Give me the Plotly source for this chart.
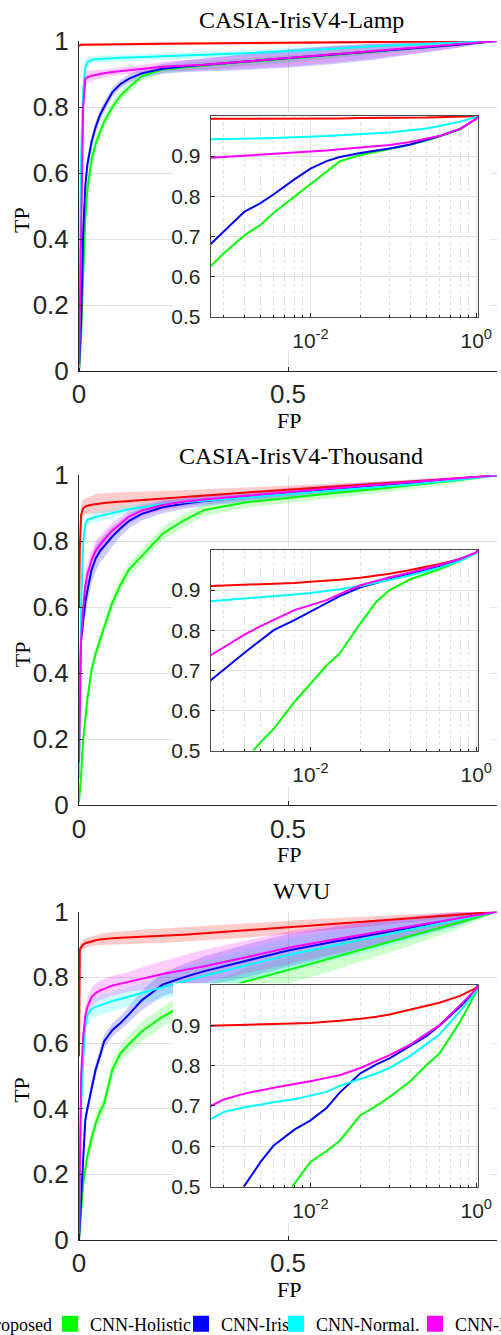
import math
import plotly.graph_objects as go

FIG_W, FIG_H = 501, 1335

# ---------------- data ----------------
METHODS = ["Proposed", "CNN-Holistic", "CNN-Iris", "CNN-Normal.", "CNN-Periocular"]
COLORS = ["#ff0000", "#00ff00", "#0000ff", "#00ffff", "#ff00ff"]
BAND_COLORS = ["rgba(255,0,0,0.20)", "rgba(0,255,0,0.20)", "rgba(0,0,255,0.20)",
               "rgba(0,255,255,0.20)", "rgba(255,0,255,0.20)"]
PANEL_TITLES = ["CASIA-IrisV4-Lamp", "CASIA-IrisV4-Thousand", "WVU"]

MAIN_X_TICKS = [0, 0.5, 1]
MAIN_X_TICKTEXT = ["0", "0.5", "1"]
MAIN_Y_TICKS = [0, 0.2, 0.4, 0.6, 0.8, 1]
MAIN_Y_TICKTEXT = ["0", "0.2", "0.4", "0.6", "0.8", "1"]
INSET_X_TICKS = [0.01, 0.1]
INSET_X_TICKTEXT = ["10<sup>-2</sup>", "10<sup>0</sup>"]
INSET_X_MINOR = [0.003, 0.004, 0.005, 0.006, 0.007, 0.008, 0.009,
                 0.02, 0.03, 0.04, 0.05, 0.06, 0.07, 0.08, 0.09]
INSET_Y_TICKS = [0.5, 0.6, 0.7, 0.8, 0.9]
INSET_Y_TICKTEXT = ["0.5", "0.6", "0.7", "0.8", "0.9"]

MAIN_FP = [0, 0.002, 0.005, 0.01, 0.015, 0.02, 0.03, 0.04, 0.05, 0.06, 0.08, 0.1,
           0.12, 0.15, 0.2, 0.25, 0.3, 0.4, 0.5, 0.6, 0.7, 0.8, 0.9, 1.0]
INSET_FP = [0.0025, 0.003, 0.004, 0.005, 0.006, 0.008, 0.01, 0.0125, 0.015, 0.02,
            0.025, 0.03, 0.04, 0.05, 0.06, 0.08, 0.1, 0.1025]

# --- CASIA-IrisV4-Lamp, main ROC (mean TP) ---
LAMP_PROPOSED = [0.985, 0.988, 0.989, 0.989, 0.989, 0.99, 0.99, 0.99, 0.99, 0.99, 0.99, 0.991,
                 0.991, 0.991, 0.992, 0.993, 0.993, 0.994, 0.995, 0.996, 0.997, 0.998, 0.999, 1.0]
LAMP_HOLISTIC = [0.0, 0.03, 0.1, 0.29, 0.46, 0.55, 0.64, 0.69, 0.724, 0.755, 0.8, 0.835,
                 0.86, 0.893, 0.914, 0.921, 0.926, 0.936, 0.946, 0.956, 0.966, 0.977, 0.988, 1.0]
LAMP_IRIS = [0.0, 0.05, 0.15, 0.42, 0.56, 0.625, 0.694, 0.74, 0.775, 0.8, 0.845, 0.87,
             0.886, 0.902, 0.916, 0.923, 0.928, 0.937, 0.947, 0.957, 0.967, 0.977, 0.988, 1.0]
LAMP_NORMAL = [0.01, 0.35, 0.65, 0.85, 0.92, 0.935, 0.943, 0.945, 0.946, 0.947, 0.948, 0.949,
               0.95, 0.951, 0.953, 0.955, 0.958, 0.963, 0.969, 0.976, 0.984, 0.99, 0.996, 1.0]
LAMP_PERIOCULAR = [0.02, 0.2, 0.5, 0.8, 0.885, 0.89, 0.895, 0.898, 0.9, 0.902, 0.906, 0.909,
                   0.912, 0.916, 0.922, 0.925, 0.928, 0.938, 0.948, 0.958, 0.968, 0.978, 0.989, 1.0]
# spread (std) of each method
LAMP_PROPOSED_STD = [0.004] * 23 + [0.0]
LAMP_HOLISTIC_STD = [0.01, 0.02, 0.03, 0.04, 0.04, 0.035, 0.03, 0.025, 0.02, 0.02, 0.018, 0.016,
                     0.015, 0.014, 0.012, 0.012, 0.012, 0.012, 0.012, 0.01, 0.008, 0.006, 0.004, 0.0]
LAMP_IRIS_STD = [0.01, 0.02, 0.03, 0.03, 0.03, 0.025, 0.02, 0.018, 0.016, 0.015, 0.014, 0.013,
                 0.013, 0.013, 0.015, 0.018, 0.02, 0.025, 0.028, 0.028, 0.025, 0.018, 0.01, 0.0]
LAMP_NORMAL_STD = [0.01, 0.03, 0.05, 0.05, 0.03, 0.015, 0.01, 0.01, 0.01, 0.01, 0.01, 0.01,
                   0.01, 0.01, 0.01, 0.01, 0.01, 0.01, 0.01, 0.01, 0.008, 0.006, 0.004, 0.0]
LAMP_PERIOCULAR_STD = [0.01, 0.03, 0.05, 0.05, 0.03, 0.02, 0.016, 0.015, 0.014, 0.013, 0.012, 0.011,
                       0.011, 0.012, 0.014, 0.016, 0.018, 0.022, 0.025, 0.025, 0.022, 0.016, 0.01, 0.0]
# --- CASIA-IrisV4-Lamp, inset (log FP) ---
LAMP_IN_PROPOSED = [0.993, 0.993, 0.993, 0.993, 0.993, 0.994, 0.994, 0.994, 0.994, 0.995,
                    0.995, 0.995, 0.996, 0.996, 0.997, 0.998, 0.999, 1.0]
LAMP_IN_HOLISTIC = [0.626, 0.658, 0.703, 0.729, 0.759, 0.799, 0.83, 0.861, 0.887, 0.903,
                    0.911, 0.918, 0.928, 0.939, 0.949, 0.967, 0.993, 1.0]
LAMP_IN_IRIS = [0.681, 0.713, 0.762, 0.783, 0.805, 0.842, 0.869, 0.8875, 0.898, 0.908,
                0.914, 0.919, 0.929, 0.94, 0.95, 0.968, 0.993, 1.0]
LAMP_IN_NORMAL = [0.942, 0.9425, 0.943, 0.944, 0.945, 0.947, 0.948, 0.95, 0.952, 0.954,
                  0.957, 0.959, 0.964, 0.969, 0.975, 0.986, 0.998, 1.0]
LAMP_IN_PERIOCULAR = [0.896, 0.898, 0.902, 0.904, 0.906, 0.908, 0.911, 0.914, 0.917, 0.921,
                      0.925, 0.928, 0.935, 0.943, 0.95, 0.968, 0.993, 1.0]

# --- CASIA-IrisV4-Thousand, main ROC ---
THOU_PROPOSED = [0.6, 0.78, 0.88, 0.9, 0.905, 0.908, 0.911, 0.913, 0.915, 0.916, 0.918, 0.92,
                 0.922, 0.925, 0.93, 0.935, 0.94, 0.948, 0.956, 0.964, 0.972, 0.98, 0.99, 1.0]
THOU_HOLISTIC = [0.01, 0.04, 0.09, 0.2, 0.27, 0.32, 0.41, 0.46, 0.5, 0.54, 0.615, 0.67,
                 0.715, 0.755, 0.823, 0.863, 0.895, 0.918, 0.932, 0.945, 0.957, 0.97, 0.984, 1.0]
THOU_IRIS = [0.3, 0.42, 0.5, 0.56, 0.615, 0.65, 0.713, 0.748, 0.77, 0.785, 0.815, 0.84,
             0.862, 0.883, 0.903, 0.914, 0.922, 0.934, 0.946, 0.957, 0.968, 0.978, 0.989, 1.0]
THOU_NORMAL = [0.08, 0.3, 0.6, 0.8, 0.85, 0.865, 0.87, 0.874, 0.877, 0.88, 0.886, 0.892,
               0.897, 0.903, 0.912, 0.918, 0.923, 0.932, 0.942, 0.952, 0.962, 0.973, 0.986, 1.0]
THOU_PERIOCULAR = [0.13, 0.35, 0.5, 0.6, 0.665, 0.7, 0.743, 0.772, 0.79, 0.805, 0.833, 0.855,
                   0.875, 0.893, 0.91, 0.92, 0.927, 0.938, 0.95, 0.96, 0.97, 0.98, 0.99, 1.0]
THOU_PROPOSED_STD = [0.02, 0.03, 0.03, 0.025, 0.025, 0.025, 0.028, 0.03, 0.03, 0.03, 0.03, 0.03,
                     0.028, 0.026, 0.022, 0.02, 0.018, 0.015, 0.012, 0.01, 0.008, 0.006, 0.004, 0.0]
THOU_HOLISTIC_STD = [0.005, 0.01, 0.015, 0.02, 0.02, 0.02, 0.02, 0.02, 0.02, 0.02, 0.022, 0.022,
                     0.022, 0.022, 0.02, 0.02, 0.018, 0.016, 0.015, 0.014, 0.013, 0.012, 0.008, 0.0]
THOU_IRIS_STD = [0.02, 0.03, 0.04, 0.04, 0.04, 0.04, 0.04, 0.04, 0.035, 0.035, 0.03, 0.025,
                 0.022, 0.02, 0.018, 0.016, 0.015, 0.014, 0.013, 0.012, 0.01, 0.008, 0.005, 0.0]
THOU_NORMAL_STD = [0.02, 0.03, 0.04, 0.03, 0.02, 0.015, 0.015, 0.015, 0.015, 0.015, 0.015, 0.014,
                   0.013, 0.012, 0.012, 0.011, 0.01, 0.01, 0.01, 0.01, 0.008, 0.006, 0.004, 0.0]
THOU_PERIOCULAR_STD = [0.02, 0.03, 0.04, 0.04, 0.04, 0.035, 0.03, 0.03, 0.028, 0.026, 0.024, 0.022,
                       0.02, 0.018, 0.016, 0.015, 0.014, 0.013, 0.012, 0.011, 0.01, 0.008, 0.005, 0.0]
THOU_IN_PROPOSED = [0.91, 0.911, 0.9125, 0.914, 0.916, 0.918, 0.921, 0.923, 0.926, 0.931,
                    0.936, 0.941, 0.95, 0.958, 0.965, 0.977, 0.993, 1.0]
THOU_IN_HOLISTIC = [0.379, 0.415, 0.474, 0.521, 0.554, 0.621, 0.667, 0.712, 0.742, 0.817,
                    0.871, 0.9, 0.927, 0.94, 0.952, 0.973, 0.993, 1.0]
THOU_IN_IRIS = [0.675, 0.7025, 0.744, 0.775, 0.8, 0.825, 0.846, 0.867, 0.885, 0.907,
                0.918, 0.927, 0.94, 0.951, 0.96, 0.977, 0.993, 1.0]
THOU_IN_NORMAL = [0.8725, 0.875, 0.879, 0.882, 0.884, 0.889, 0.893, 0.8975, 0.902, 0.91,
                  0.918, 0.925, 0.937, 0.9475, 0.956, 0.973, 0.992, 1.0]
THOU_IN_PERIOCULAR = [0.7375, 0.757, 0.789, 0.81, 0.825, 0.85, 0.8625, 0.875, 0.89, 0.912,
                      0.923, 0.932, 0.944, 0.954, 0.9625, 0.978, 0.994, 1.0]

# --- WVU, main ROC ---
WVU_PROPOSED = [0.56, 0.885, 0.892, 0.9, 0.904, 0.906, 0.91, 0.913, 0.915, 0.917, 0.919, 0.921,
                0.922, 0.924, 0.927, 0.93, 0.934, 0.943, 0.952, 0.962, 0.971, 0.981, 0.99, 1.0]
WVU_HOLISTIC = [0.0, 0.03, 0.1, 0.17, 0.215, 0.255, 0.31, 0.355, 0.39, 0.415, 0.52, 0.57,
                0.597, 0.635, 0.68, 0.715, 0.74, 0.788, 0.822, 0.857, 0.893, 0.929, 0.964, 1.0]
WVU_IRIS = [0.0, 0.05, 0.16, 0.28, 0.365, 0.4, 0.465, 0.52, 0.56, 0.605, 0.64, 0.662,
            0.688, 0.73, 0.778, 0.8, 0.819, 0.85, 0.882, 0.906, 0.93, 0.953, 0.977, 1.0]
WVU_NORMAL = [0.02, 0.2, 0.4, 0.55, 0.65, 0.685, 0.703, 0.71, 0.715, 0.719, 0.728, 0.735,
              0.742, 0.752, 0.771, 0.788, 0.805, 0.836, 0.868, 0.895, 0.921, 0.947, 0.973, 1.0]
WVU_PERIOCULAR = [0.02, 0.3, 0.5, 0.62, 0.68, 0.71, 0.74, 0.752, 0.76, 0.765, 0.775, 0.781,
                  0.787, 0.796, 0.81, 0.822, 0.834, 0.861, 0.89, 0.913, 0.935, 0.957, 0.978, 1.0]
WVU_PROPOSED_STD = [0.01, 0.015, 0.015, 0.015, 0.015, 0.015, 0.015, 0.016, 0.017, 0.018, 0.019, 0.02,
                    0.02, 0.021, 0.022, 0.022, 0.022, 0.022, 0.02, 0.018, 0.015, 0.012, 0.008, 0.0]
WVU_HOLISTIC_STD = [0.01, 0.02, 0.02, 0.02, 0.025, 0.025, 0.025, 0.025, 0.025, 0.025, 0.025, 0.025,
                    0.028, 0.03, 0.03, 0.035, 0.035, 0.04, 0.04, 0.04, 0.035, 0.03, 0.02, 0.0]
WVU_IRIS_STD = [0.01, 0.02, 0.02, 0.02, 0.02, 0.02, 0.02, 0.02, 0.02, 0.02, 0.02, 0.022,
                0.025, 0.03, 0.035, 0.04, 0.045, 0.05, 0.05, 0.045, 0.04, 0.03, 0.02, 0.0]
WVU_NORMAL_STD = [0.01, 0.02, 0.03, 0.03, 0.03, 0.03, 0.03, 0.03, 0.03, 0.03, 0.03, 0.03,
                  0.03, 0.03, 0.035, 0.04, 0.045, 0.05, 0.05, 0.045, 0.04, 0.03, 0.02, 0.0]
WVU_PERIOCULAR_STD = [0.01, 0.02, 0.03, 0.03, 0.03, 0.03, 0.03, 0.03, 0.03, 0.03, 0.03, 0.03,
                      0.03, 0.035, 0.04, 0.045, 0.05, 0.05, 0.05, 0.045, 0.04, 0.03, 0.02, 0.0]
WVU_IN_PROPOSED = [0.899, 0.9, 0.9005, 0.901, 0.902, 0.904, 0.906, 0.909, 0.911, 0.916,
                   0.921, 0.927, 0.939, 0.948, 0.956, 0.973, 0.993, 1.0]
WVU_IN_HOLISTIC = [0.196, 0.254, 0.337, 0.395, 0.436, 0.507, 0.561, 0.588, 0.613, 0.677,
                   0.7, 0.722, 0.761, 0.801, 0.83, 0.909, 0.983, 1.0]
WVU_IN_IRIS = [0.382, 0.428, 0.502, 0.561, 0.602, 0.641, 0.664, 0.695, 0.733, 0.781,
               0.803, 0.818, 0.849, 0.873, 0.899, 0.946, 0.988, 1.0]
WVU_IN_NORMAL = [0.667, 0.685, 0.6965, 0.704, 0.709, 0.7164, 0.7247, 0.7347, 0.7496, 0.768,
                 0.7803, 0.7944, 0.8242, 0.8532, 0.8773, 0.9353, 0.985, 1.0]
WVU_IN_PERIOCULAR = [0.6998, 0.716, 0.7305, 0.739, 0.745, 0.7546, 0.761, 0.7695, 0.776, 0.794,
                     0.811, 0.826, 0.852, 0.879, 0.9005, 0.95, 0.99, 1.0]

PANELS = [
    dict(main=[LAMP_PROPOSED, LAMP_HOLISTIC, LAMP_IRIS, LAMP_NORMAL, LAMP_PERIOCULAR],
         std=[LAMP_PROPOSED_STD, LAMP_HOLISTIC_STD, LAMP_IRIS_STD, LAMP_NORMAL_STD, LAMP_PERIOCULAR_STD],
         inset=[LAMP_IN_PROPOSED, LAMP_IN_HOLISTIC, LAMP_IN_IRIS, LAMP_IN_NORMAL, LAMP_IN_PERIOCULAR]),
    dict(main=[THOU_PROPOSED, THOU_HOLISTIC, THOU_IRIS, THOU_NORMAL, THOU_PERIOCULAR],
         std=[THOU_PROPOSED_STD, THOU_HOLISTIC_STD, THOU_IRIS_STD, THOU_NORMAL_STD, THOU_PERIOCULAR_STD],
         inset=[THOU_IN_PROPOSED, THOU_IN_HOLISTIC, THOU_IN_IRIS, THOU_IN_NORMAL, THOU_IN_PERIOCULAR]),
    dict(main=[WVU_PROPOSED, WVU_HOLISTIC, WVU_IRIS, WVU_NORMAL, WVU_PERIOCULAR],
         std=[WVU_PROPOSED_STD, WVU_HOLISTIC_STD, WVU_IRIS_STD, WVU_NORMAL_STD, WVU_PERIOCULAR_STD],
         inset=[WVU_IN_PROPOSED, WVU_IN_HOLISTIC, WVU_IN_IRIS, WVU_IN_NORMAL, WVU_IN_PERIOCULAR]),
]

# ---------------- layout geometry (pixels) ----------------
MAIN_X_PX = (79, 497)
MAIN_Y_PX = [(41, 371), (475.3, 805.3), (911.7, 1240)]
INSET_X_PX = (210.7, 478)
INSET_Y_PX = [(116, 316.7), (550, 750.5), (985, 1186.5)]
COVER_X = (0.225, 0.985)
COVER_Y = [(0.064, 0.785), (0.058, 0.784), (0.052, 0.782)]
TITLE_BASE_PX = [28.3, 464, 899.3]
LEGEND_LEFT_PX = [-55, 50, 181, 276, 415]
LEGEND_Y_PX = 1324


def pxx(p):
    return p / FIG_W


def pxy(p):
    return 1 - p / FIG_H


AX_COLOR = "#262626"
GRID_COLOR = "#e2e2e2"
SANS = "Liberation Sans"
SERIF = "Liberation Serif"

fig = go.Figure()
layout = dict(
    width=FIG_W, height=FIG_H,
    margin=dict(l=0, r=0, t=0, b=0, autoexpand=False),
    paper_bgcolor="white", plot_bgcolor="white",
    showlegend=True,
    annotations=[],
)

for p, panel in enumerate(PANELS):
    mi = 2 * p + 1
    ii = 2 * p + 2
    mx, my = f"x{mi}", f"y{mi}"
    ix, iy = f"x{ii}", f"y{ii}"

    # shaded spread bands
    for m in range(5):
        mean = panel["main"][m]
        sd = panel["std"][m]
        up = [min(1.0, a + b) for a, b in zip(mean, sd)]
        lo = [max(0.0, a - b) for a, b in zip(mean, sd)]
        fig.add_trace(go.Scatter(
            x=MAIN_FP + MAIN_FP[::-1], y=up + lo[::-1],
            fill="toself", fillcolor=BAND_COLORS[m], line=dict(width=0),
            mode="lines", hoverinfo="skip", showlegend=False, xaxis=mx, yaxis=my))
    # mean curves
    for m in range(5):
        fig.add_trace(go.Scatter(
            x=MAIN_FP, y=panel["main"][m], mode="lines",
            line=dict(color=COLORS[m], width=2), name=METHODS[m],
            showlegend=False, xaxis=mx, yaxis=my))
    # white panel behind the inset
    cx0, cx1 = COVER_X
    cy0, cy1 = COVER_Y[p]
    fig.add_trace(go.Scatter(
        x=[cx0, cx1, cx1, cx0, cx0], y=[cy0, cy0, cy1, cy1, cy0],
        fill="toself", fillcolor="white", line=dict(width=0), mode="lines",
        hoverinfo="skip", showlegend=False, xaxis=mx, yaxis=my))
    # inset curves
    for m in range(5):
        fig.add_trace(go.Scatter(
            x=INSET_FP, y=panel["inset"][m], mode="lines",
            line=dict(color=COLORS[m], width=2), name=METHODS[m],
            showlegend=False, xaxis=ix, yaxis=iy))

    top, bot = MAIN_Y_PX[p]
    layout[f"xaxis{mi}"] = dict(
        domain=[pxx(MAIN_X_PX[0]), pxx(MAIN_X_PX[1])], anchor=my,
        range=[0, 1], tickmode="array", tickvals=MAIN_X_TICKS, ticktext=MAIN_X_TICKTEXT,
        showgrid=True, gridcolor=GRID_COLOR, gridwidth=1, zeroline=False,
        showline=True, linecolor=AX_COLOR, linewidth=1,
        ticks="inside", ticklen=4, tickcolor=AX_COLOR,
        tickfont=dict(family=SANS, size=26, color=AX_COLOR), ticklabelstandoff=0)
    layout[f"yaxis{mi}"] = dict(
        domain=[pxy(bot), pxy(top)], anchor=mx,
        range=[0, 1], tickmode="array", tickvals=MAIN_Y_TICKS, ticktext=MAIN_Y_TICKTEXT,
        showgrid=True, gridcolor=GRID_COLOR, gridwidth=1, zeroline=False,
        showline=True, linecolor=AX_COLOR, linewidth=1,
        ticks="inside", ticklen=4, tickcolor=AX_COLOR,
        tickfont=dict(family=SANS, size=26, color=AX_COLOR), ticklabelstandoff=4)

    itop, ibot = INSET_Y_PX[p]
    layout[f"xaxis{ii}"] = dict(
        domain=[pxx(INSET_X_PX[0]), pxx(INSET_X_PX[1])], anchor=iy, type="log",
        range=[math.log10(0.0025), math.log10(0.1025)],
        tickmode="array", tickvals=INSET_X_TICKS, ticktext=INSET_X_TICKTEXT,
        showgrid=True, gridcolor=GRID_COLOR, zeroline=False,
        showline=True, mirror=True, linecolor="#4a4a4a", linewidth=1,
        ticks="inside", ticklen=4, tickcolor=AX_COLOR,
        minor=dict(tickmode="array", tickvals=INSET_X_MINOR, showgrid=True,
                   griddash="dot", gridcolor="#dedede", ticks="inside", ticklen=2,
                   tickcolor=AX_COLOR),
        tickfont=dict(family=SANS, size=21, color=AX_COLOR), ticklabelstandoff=5)
    layout[f"yaxis{ii}"] = dict(
        domain=[pxy(ibot), pxy(itop)], anchor=ix,
        range=[0.5, 1.0], tickmode="array", tickvals=INSET_Y_TICKS, ticktext=INSET_Y_TICKTEXT,
        showgrid=True, gridcolor=GRID_COLOR, zeroline=False,
        showline=True, mirror=True, linecolor="#4a4a4a", linewidth=1,
        ticks="inside", ticklen=4, tickcolor=AX_COLOR,
        tickfont=dict(family=SANS, size=21, color=AX_COLOR), ticklabelstandoff=5)

    # text: title, axis labels
    layout["annotations"].append(dict(
        text=PANEL_TITLES[p], xref="paper", yref="paper",
        x=pxx(301), y=pxy(TITLE_BASE_PX[p] - 8), xanchor="center", yanchor="middle",
        showarrow=False, font=dict(family=SERIF, size=24, color="black")))
    layout["annotations"].append(dict(
        text="TP", xref="paper", yref="paper", textangle=-90,
        x=pxx(22), y=pxy((top + bot) / 2 + 14), xanchor="center", yanchor="middle",
        showarrow=False, font=dict(family=SERIF, size=22, color="black")))
    layout["annotations"].append(dict(
        text="FP", xref="paper", yref="paper",
        x=pxx(289), y=pxy(bot + 49), xanchor="center", yanchor="middle",
        showarrow=False, font=dict(family=SERIF, size=22, color="black")))

# legend entries (colour swatches), one small legend per method
for m in range(5):
    lname = "legend" if m == 0 else f"legend{m + 1}"
    fig.add_trace(go.Scatter(
        x=[None], y=[None], mode="markers", name=METHODS[m],
        marker=dict(symbol="square", size=19, color=COLORS[m], line=dict(width=0)),
        showlegend=True, legend=lname, xaxis="x1", yaxis="y1"))
    layout[lname] = dict(
        orientation="h", xref="paper", yref="paper",
        x=pxx(LEGEND_LEFT_PX[m]), y=pxy(LEGEND_Y_PX), xanchor="left", yanchor="middle",
        font=dict(family=SERIF, size=18, color="black"),
        bgcolor="rgba(0,0,0,0)", borderwidth=0, itemwidth=30)

fig.update_layout(**layout)
fig.write_html("out.html")
